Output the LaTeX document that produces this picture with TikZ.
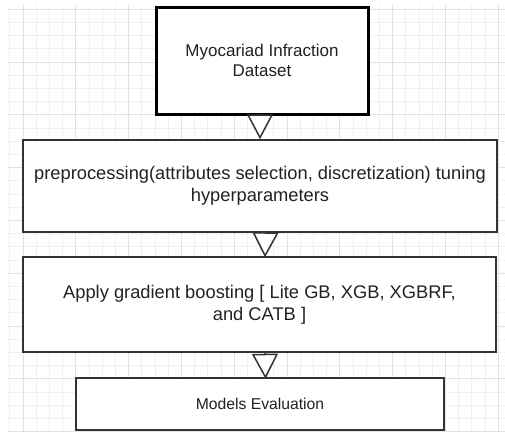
\documentclass[tikz,border=0pt]{standalone}
\usepackage{fontspec}
\setmainfont{Liberation Sans}
\usetikzlibrary{arrows.meta,calc}
\definecolor{gridminor}{HTML}{F0F0F0}
\definecolor{gridmajor}{HTML}{E2E2E2}
\definecolor{edgegray}{HTML}{333333}
\definecolor{txt}{HTML}{222222}
\begin{document}
\begin{tikzpicture}[x=1pt,y=-1pt,
  box/.style={draw=edgegray,line width=1.5pt,fill=white,rectangle,inner sep=0pt,
    align=center,text=txt},
  thickbox/.style={box,draw=black,line width=3pt},
  flow/.style={draw=edgegray,line width=1.5pt,
    -{Triangle[length=25pt,width=26pt,fill=white,line join=miter]}}]
\useasboundingbox (0,0) rectangle (505,432);
\fill[white] (0,0) rectangle (505,432);
% grid
\foreach \k in {-1,...,36} {
  \draw[gridminor,line width=0.8pt] ({23+13.2*\k},5) -- ({23+13.2*\k},431);
}
\foreach \k in {-4,...,28} {
  \draw[gridminor,line width=0.8pt] (8,{62+13.2*\k}) -- (505,{62+13.2*\k});
}
\foreach \k in {0,...,9} {
  \draw[gridmajor,line width=0.9pt] ({23+52.8*\k},5) -- ({23+52.8*\k},431);
}
\foreach \k in {-1,...,7} {
  \draw[gridmajor,line width=0.9pt] (8,{62+52.8*\k}) -- (505,{62+52.8*\k});
}
% boxes
\node[thickbox,minimum width=212pt,minimum height=107pt,
  font=\fontsize{17}{20.5}\selectfont] (b1) at (262,60.5)
  {Myocariad Infraction\\Dataset};
\node[box,minimum width=474pt,minimum height=92pt,
  font=\fontsize{18.3}{22}\selectfont] (b2) at (260,186)
  {preprocessing(attributes selection, discretization) tuning\\hyperparameters};
\node[box,minimum width=473pt,minimum height=95pt,
  font=\fontsize{18.3}{22}\selectfont] (b3) at (259.5,304.5)
  {Apply gradient boosting [ Lite GB, XGB, XGBRF,\\and CATB ]};
\node[box,minimum width=368pt,minimum height=52pt,
  font=\fontsize{15.7}{19}\selectfont] (b4) at (260,404)
  {Models Evaluation};
% connectors
\draw[flow] (b1.south -| b2.north) -- (b2.north);
\draw[flow] ($(b2.south)+(5.5,0)$) -- ($(b3.north)+(5.5,1)$);
\draw[flow] ($(b3.south)+(5.5,0)$) -- ($(b4.north)+(5.5,1.5)$);
\end{tikzpicture}
\end{document}
